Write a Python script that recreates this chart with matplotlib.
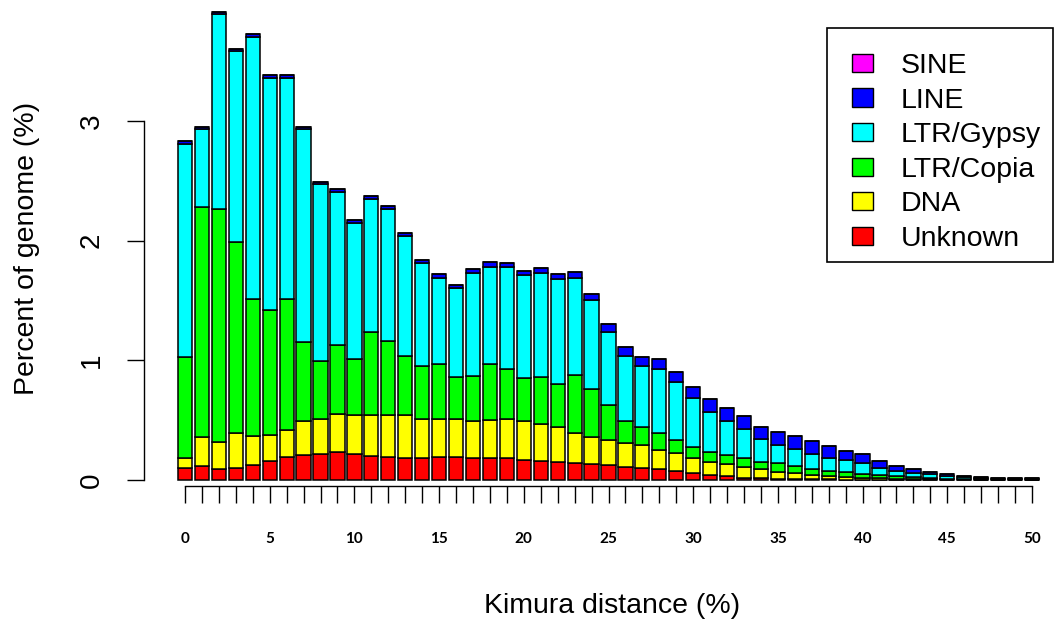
import matplotlib
matplotlib.use("Agg")
import matplotlib.pyplot as plt
from matplotlib.patches import Patch, Rectangle
import numpy as np

# Kimura distance bins (0..50)
kimura = list(range(51))

unknown = [0.10, 0.12, 0.09, 0.10, 0.125, 0.16, 0.19, 0.21, 0.22, 0.23,
           0.22, 0.20, 0.195, 0.18, 0.18, 0.19, 0.19, 0.18, 0.18, 0.18,
           0.17, 0.16, 0.15, 0.14, 0.13, 0.125, 0.11, 0.10, 0.09, 0.075,
           0.055, 0.04, 0.03, 0.02, 0.015, 0.01, 0.01, 0.005, 0.005, 0.004,
           0.003, 0.003, 0.002, 0.002, 0.001, 0.001, 0.001, 0.001, 0.0005, 0.0005,
           0.0005]
dna = [0.08, 0.24, 0.23, 0.29, 0.24, 0.22, 0.23, 0.28, 0.29, 0.32,
       0.32, 0.34, 0.35, 0.36, 0.33, 0.32, 0.32, 0.31, 0.32, 0.33,
       0.32, 0.31, 0.29, 0.25, 0.23, 0.21, 0.20, 0.19, 0.16, 0.15,
       0.13, 0.11, 0.10, 0.085, 0.075, 0.06, 0.045, 0.035, 0.03, 0.021,
       0.017, 0.012, 0.01, 0.008, 0.007, 0.005, 0.004, 0.003, 0.0025, 0.0015,
       0.0015]
ltr_copia = [0.85, 1.92, 1.94, 1.60, 1.15, 1.04, 1.09, 0.66, 0.48, 0.58,
             0.47, 0.70, 0.62, 0.50, 0.44, 0.46, 0.35, 0.38, 0.47, 0.42,
             0.36, 0.39, 0.36, 0.49, 0.40, 0.29, 0.18, 0.15, 0.14, 0.11,
             0.09, 0.08, 0.08, 0.08, 0.06, 0.07, 0.065, 0.05, 0.04, 0.04,
             0.03, 0.025, 0.021, 0.012, 0.01, 0.006, 0.005, 0.004, 0.003, 0.003,
             0.002]
ltr_gypsy = [1.78, 0.65, 1.63, 1.59, 2.19, 1.94, 1.85, 1.78, 1.48, 1.28,
             1.14, 1.11, 1.10, 1.00, 0.86, 0.72, 0.74, 0.86, 0.81, 0.85,
             0.86, 0.87, 0.88, 0.81, 0.74, 0.61, 0.55, 0.51, 0.54, 0.48,
             0.41, 0.34, 0.28, 0.24, 0.19, 0.15, 0.14, 0.13, 0.11, 0.10,
             0.09, 0.06, 0.045, 0.038, 0.032, 0.018, 0.012, 0.009, 0.006, 0.005,
             0.004]
line = [0.02, 0.02, 0.02, 0.02, 0.02, 0.02, 0.02, 0.02, 0.02, 0.02,
        0.02, 0.025, 0.025, 0.025, 0.03, 0.03, 0.03, 0.03, 0.04, 0.035,
        0.04, 0.04, 0.04, 0.05, 0.05, 0.065, 0.07, 0.08, 0.08, 0.09,
        0.095, 0.105, 0.115, 0.11, 0.105, 0.11, 0.105, 0.105, 0.095, 0.08,
        0.075, 0.06, 0.042, 0.03, 0.02, 0.02, 0.013, 0.011, 0.008, 0.007,
        0.006]
sine = [0.0] * 51

series_names = ["Unknown", "DNA", "LTR/Copia", "LTR/Gypsy", "LINE", "SINE"]
series_values = [unknown, dna, ltr_copia, ltr_gypsy, line, sine]
series_colors = ["#FF0000", "#FFFF00", "#00FF00", "#00FFFF", "#0000FF", "#FF00FF"]

xtick_labels = [str(v) if v % 5 == 0 else "" for v in kimura]
ytick_values = [0, 1, 2, 3]

plt.rcParams['font.family'] = ['Liberation Sans', 'DejaVu Sans']

W, H = 1055, 626
fig = plt.figure(figsize=(W / 100, H / 100), dpi=100)

# axes geometry in pixels
ax_left_px, ax_right_px = 144, 1045
ax_top_px, ax_bottom_px = 0, 486
ax = fig.add_axes([ax_left_px / W, 1 - ax_bottom_px / H,
                   (ax_right_px - ax_left_px) / W, (ax_bottom_px - ax_top_px) / H])

bar_w = 0.84
bottom = np.zeros(len(kimura))
for name, vals, col in zip(series_names, series_values, series_colors):
    v = np.array(vals)
    ax.bar(kimura, v, bottom=bottom, width=bar_w, color=col,
           edgecolor="black", linewidth=1.1, zorder=2)
    bottom = bottom + v

px_per_bar = 16.94
x0 = -(185 - ax_left_px) / px_per_bar
ax.set_xlim(x0, x0 + (ax_right_px - ax_left_px) / px_per_bar)
px_per_unit = 119.7
ax.set_ylim(-6 / px_per_unit, 480 / px_per_unit)

for s in ["top", "right"]:
    ax.spines[s].set_visible(False)
ax.spines["left"].set_bounds(0, 3)
ax.spines["bottom"].set_bounds(0, 50)
ax.spines["left"].set_linewidth(1.0)
ax.spines["bottom"].set_linewidth(1.0)

ax.set_yticks(ytick_values)
ax.set_yticklabels([str(v) for v in ytick_values], rotation=90, va="center")
ax.tick_params(axis="y", length=12, width=1.0, pad=16, labelsize=20)

ax.set_xticks(kimura)
ax.set_xticklabels(xtick_labels, fontfamily="Lato", fontweight="bold")
ax.tick_params(axis="x", length=12, width=1.0, pad=21, labelsize=11)

fig.text(612 / W, 1 - 606 / H, "Kimura distance (%)", ha="center", va="center", fontsize=20.5)
fig.text(27 / W, 1 - 248 / H, "Percent of genome (%)", ha="center", va="center",
         rotation=90, fontsize=20.5)

handles = [Patch(facecolor=c, edgecolor="black", linewidth=1.0)
           for c in series_colors[::-1]]
labels = series_names[::-1]
leg = fig.legend(handles, labels, loc="upper left",
                 bbox_to_anchor=(852 / W, 1 - 53 / H), borderaxespad=0,
                 fontsize=20.5, frameon=False,
                 handlelength=0.75, handleheight=0.6, handletextpad=0.95,
                 borderpad=0.0, labelspacing=0.3)
# legend frame box
fig.add_artist(Rectangle((827 / W, 1 - 262 / H), (1053 - 827) / W, (262 - 28) / H,
                         transform=fig.transFigure, facecolor="none",
                         edgecolor="black", linewidth=1.2, zorder=5))

fig.savefig("out.png", dpi=100)
